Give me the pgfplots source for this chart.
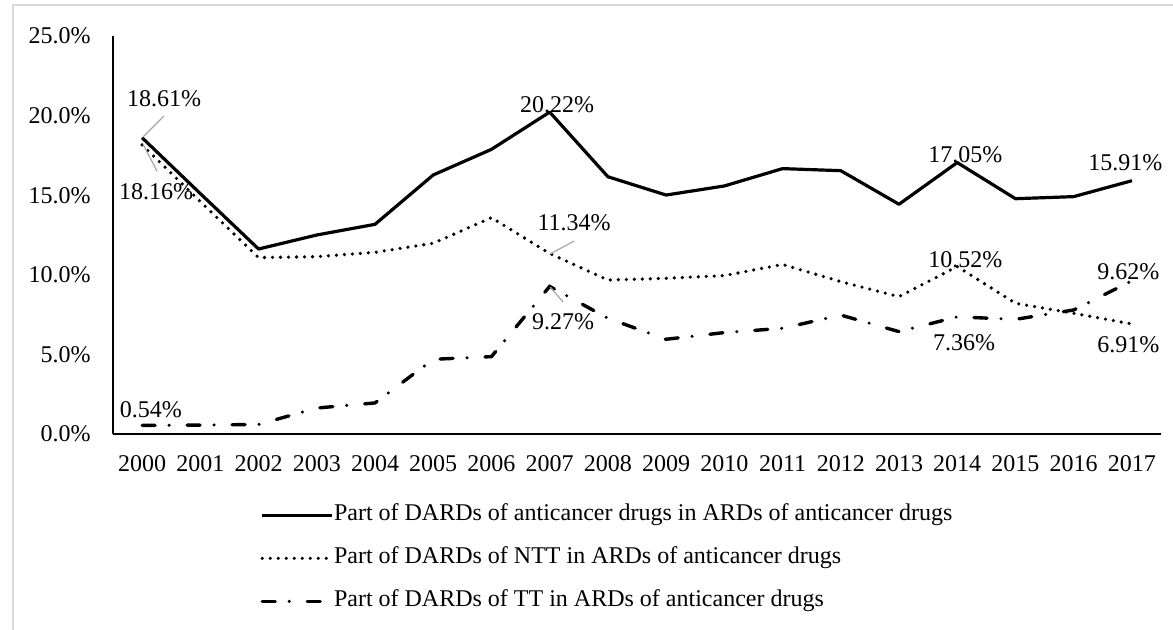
\documentclass[border=0pt]{standalone}
\usepackage{fontspec}
\setmainfont{Liberation Serif}
\usepackage{pgfplots}
\pgfplotsset{compat=1.18}

% 1 px of the reference = 0.5pt
\pgfplotstableread{
x  all    ntt    tt
0  18.61  18.16  0.54
1  15.10  14.60  0.56
2  11.62  11.08  0.60
3  12.50  11.14  1.63
4  13.17  11.41  1.95
5  16.27  11.98  4.69
6  17.88  13.59  4.86
7  20.22  11.34  9.27
8  16.16   9.67  7.27
9  15.01   9.78  5.95
10 15.58   9.95  6.37
11 16.67  10.65  6.64
12 16.54   9.57  7.47
13 14.43   8.63  6.43
14 17.05  10.52  7.36
15 14.78   8.21  7.20
16 14.91   7.58  7.79
17 15.91   6.91  9.62
}\datatable

\begin{document}
\fontsize{12}{14.4}\selectfont
\begin{tikzpicture}
\useasboundingbox (-56.5pt,-98pt) rectangle (530pt,217pt);
\draw[color=black!15, line width=1pt] (-50pt,-98pt) -- (-50pt,214.5pt) -- (530pt,214.5pt);
\begin{axis}[
  at={(0pt,0pt)}, anchor=south west,
  scale only axis, width=524pt, height=199pt,
  xmin=-0.5, xmax=17.5, ymin=0, ymax=25,
  axis lines*=left,
  axis line style={line width=1.2pt, black},
  major tick length=0pt,
  xtick={0,...,17},
  xticklabels={2000,2001,2002,2003,2004,2005,2006,2007,2008,2009,2010,2011,2012,2013,2014,2015,2016,2017},
  ytick={0,5,10,15,20,25},
  yticklabels={0.0\%,5.0\%,10.0\%,15.0\%,20.0\%,25.0\%},
  xticklabel style={anchor=north, inner sep=0pt, yshift=-10.5pt},
  yticklabel style={anchor=east, inner sep=0pt, xshift=-11pt},
  clip=false,
  legend style={at={(axis description cs:0.1403,-0.177)}, anchor=north west,
    draw=none, fill=none, inner sep=0pt, row sep=11pt,
    nodes={inner sep=0pt, text height=8pt, text depth=2.5pt, xshift=3pt},
    cells={anchor=west}},
  legend image code/.code={\draw[#1] (0pt,0pt) -- (35pt,0pt);},
]
\addplot[black, line width=1.6pt, line join=round] table[x=x, y=all] {\datatable};
\addlegendentry{Part of DARDs of anticancer drugs in ARDs of anticancer drugs}
\addplot[black, line width=1.8pt, line cap=round, dash pattern=on 0pt off 4pt] table[x=x, y=ntt] {\datatable};
\addlegendentry{Part of DARDs of NTT in ARDs of anticancer drugs}
\addplot[black, line width=1.7pt, line cap=round, dash pattern=on 6.5pt off 7pt on 0pt off 9pt] table[x=x, y=tt] {\datatable};
\addlegendentry{Part of DARDs of TT in ARDs of anticancer drugs}

% leader lines
\draw[black!35, line width=0.6pt] (axis cs:0.015,18.66) -- (axis cs:0.376,19.97);
\draw[black!35, line width=0.6pt] (axis cs:0.015,18.2) -- (axis cs:0.256,16.52);
\draw[black!35, line width=0.6pt] (axis cs:7.01,11.31) -- (axis cs:7.42,12.12);
\draw[black!35, line width=0.6pt] (axis cs:7.01,9.23) -- (axis cs:7.23,8.29);

% data labels
\node at (axis cs:0.376,21.04) {18.61\%};
\node at (axis cs:0.24,15.2) {18.16\%};
\node at (axis cs:7.13,20.67) {20.22\%};
\node at (axis cs:7.42,13.25) {11.34\%};
\node at (axis cs:7.23,7.04) {9.27\%};
\node at (axis cs:14.14,17.53) {17.05\%};
\node at (axis cs:14.14,10.93) {10.52\%};
\node at (axis cs:14.12,5.72) {7.36\%};
\node at (axis cs:16.89,17.02) {15.91\%};
\node at (axis cs:16.94,10.18) {9.62\%};
\node at (axis cs:16.94,5.59) {6.91\%};
\node at (axis cs:0.15,1.51) {0.54\%};
\end{axis}
\end{tikzpicture}
\end{document}
